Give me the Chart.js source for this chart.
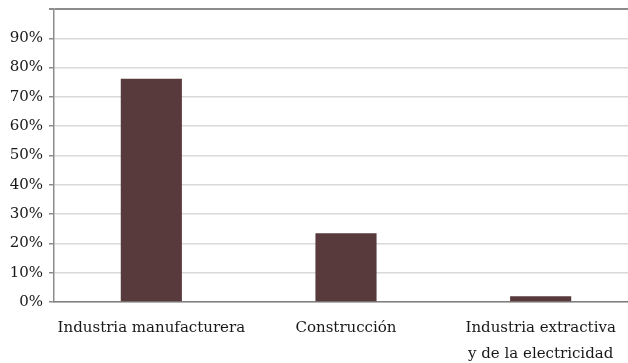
<!DOCTYPE html>
<html>
<head>
<meta charset="utf-8">
<script src="https://cdn.jsdelivr.net/npm/chart.js@4"></script>
<style>
    html, body { margin: 0; padding: 0; background: #ffffff; overflow: hidden; }
    #wrap { position: absolute; left: 0; top: 0; width: 640px; height: 363px; }
</style>
</head>
<body>
<div id="wrap"><canvas id="chart" width="640" height="363"></canvas></div>
<script>
// Sectores y participación (%)
var categories = [
    'Industria manufacturera',
    'Construcción',
    ['Industria extractiva', 'y de la electricidad']
];
var shares = [76.2, 23.5, 2.0];
var yTicks = [0, 10, 20, 30, 40, 50, 60, 70, 80, 90, 100];

var fontFamily = '"DejaVu Serif", "Liberation Serif", serif';

var ctx = document.getElementById('chart').getContext('2d');

new Chart(ctx, {
    type: 'bar',
    data: {
        labels: categories,
        datasets: [
            {
                label: 'Participación',
                data: shares,
                backgroundColor: '#583a3c',
                borderWidth: 0,
                barPercentage: 0.314,
                categoryPercentage: 1
            }
        ]
    },
    options: {
        responsive: false,
        animation: false,
        layout: {
            padding: { left: 0, right: 2, top: 9, bottom: 0 }
        },
        plugins: {
            legend: { display: false },
            tooltip: { enabled: false }
        },
        scales: {
            x: {
                grid: { display: false, drawTicks: false },
                border: { display: true, color: '#7f7f7f', width: 1.5 },
                ticks: {
                    color: '#1a1718',
                    padding: 13,
                    maxRotation: 0,
                    autoSkip: false,
                    font: { family: fontFamily, size: 15, lineHeight: 1.75 }
                },
                afterFit: function(scale) {
                    scale.height = 61;
                }
            },
            y: {
                min: 0,
                max: 100,
                afterBuildTicks: function(scale) {
                    scale.ticks = yTicks.map(function(v) { return { value: v }; });
                },
                grid: {
                    color: function(c) {
                        return c.tick && c.tick.value === 100 ? '#8c8c8c' : '#d9d9d9';
                    },
                    lineWidth: function(c) {
                        return c.tick && c.tick.value === 100 ? 2 : 1.5;
                    },
                    tickLength: 5,
                    tickColor: '#8c8c8c'
                },
                border: { display: true, color: '#8c8c8c', width: 1.5 },
                ticks: {
                    color: '#1a1718',
                    padding: 6,
                    font: { family: fontFamily, size: 15 },
                    callback: function(value) {
                        return value === 100 ? '' : value + '%';
                    }
                },
                afterFit: function(scale) {
                    scale.width = 54;
                    // no extra room needed above the hidden 100% label
                    scale.paddingTop = 0;
                }
            }
        }
    }
});
</script>
</body>
</html>
